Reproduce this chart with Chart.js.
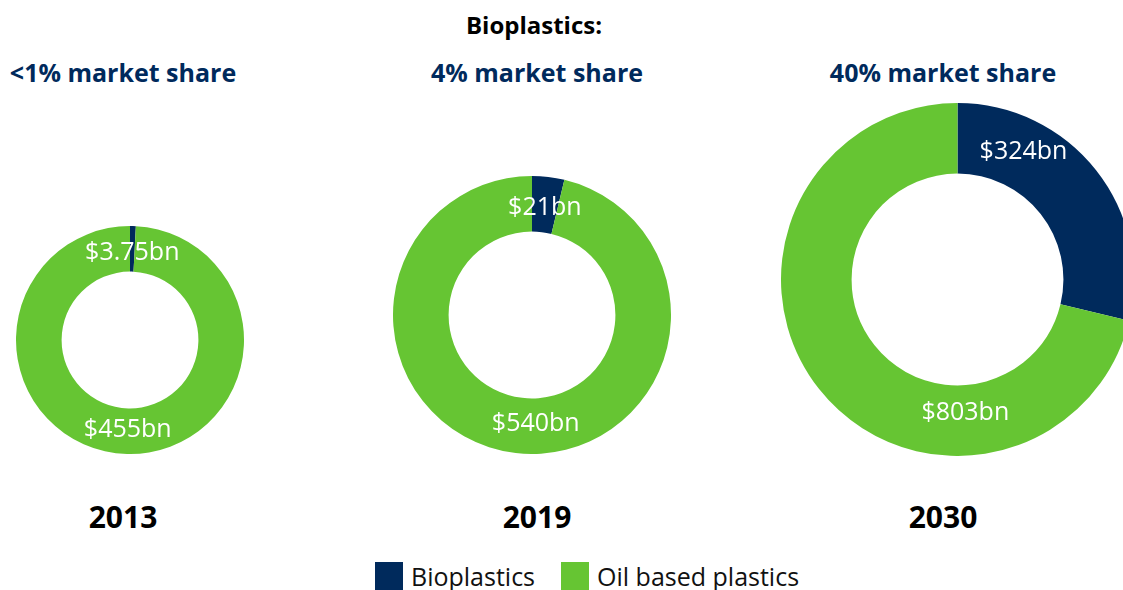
<!DOCTYPE html>
<html>
<head>
<meta charset="utf-8">
<script src="https://cdn.jsdelivr.net/npm/chart.js@4"></script>
<style>
  html, body {
    margin: 0;
    padding: 0;
    width: 1123px;
    height: 590px;
    overflow: hidden;
    background: #ffffff;
    font-family: "Open Sans", sans-serif;
  }
  .txt {
    position: absolute;
    line-height: 1;
    white-space: nowrap;
    transform: translate(-50%, -50%);
  }
  .title { font-size: 24px; font-weight: 700; color: #000; }
  .share { font-size: 25px; font-weight: 700; color: #002a5c; }
  .year { font-size: 30px; font-weight: 700; color: #000; }
  .ring { position: absolute; }
  #legend {
    position: absolute;
    left: 375px;
    top: 576px;
    transform: translateY(-50%);
    display: flex;
    align-items: center;
    font-size: 25px;
    line-height: 1;
    color: #111;
  }
  .legend-item { display: flex; align-items: center; margin-right: 26px; }
  .swatch { width: 28px; height: 28px; margin-right: 8px; }
</style>
</head>
<body>
<div class="txt title" style="left:534px; top:25px;">Bioplastics:</div>
<div id="texts"></div>
<canvas id="ring2013" class="ring" width="228" height="228" style="left:16px; top:226px;"></canvas>
<canvas id="ring2019" class="ring" width="278" height="278" style="left:393px; top:176px;"></canvas>
<canvas id="ring2030" class="ring" width="353" height="353" style="left:781px; top:103px;"></canvas>
<div id="legend"></div>

<script>
const categories = ["Bioplastics", "Oil based plastics"];
const years = ["2013", "2019", "2030"];
const shareLabels = ["<1% market share", "4% market share", "40% market share"];
const bioValues = [3.75, 21, 324];
const oilValues = [455, 540, 803];

const colors = ["#002a5c", "#66c533"];

// where the headings sit over each ring
const headingX = [123, 537, 943];

// value labels: [angle in degrees from the top (null = middle of the slice),
// position across the ring width, 0 = inner edge, 1 = outer edge]
const labelSpots = [
  [[null, 0.46], [null, 0.43]],
  [[null, 0.47], [178, 0.43]],
  [[27, 0.56], [176.6, 0.37]],
];

const texts = document.getElementById("texts");
years.forEach((year, i) => {
  const share = document.createElement("div");
  share.className = "txt share";
  share.style.left = headingX[i] + "px";
  share.style.top = "72px";
  share.textContent = shareLabels[i];
  texts.appendChild(share);

  const y = document.createElement("div");
  y.className = "txt year";
  y.style.left = headingX[i] + "px";
  y.style.top = "517px";
  y.textContent = year;
  texts.appendChild(y);
});

const legend = document.getElementById("legend");
categories.forEach((name, i) => {
  const item = document.createElement("div");
  item.className = "legend-item";
  item.innerHTML = `<span class="swatch" style="background:${colors[i]}"></span><span>${name}</span>`;
  legend.appendChild(item);
});

// draws "$Xbn" in white on each slice
const valueLabels = {
  id: "valueLabels",
  afterDatasetsDraw(chart, args, opts) {
    const ctx = chart.ctx;
    const meta = chart.getDatasetMeta(0);
    const values = chart.data.datasets[0].data;
    const size = 25;
    ctx.save();
    ctx.fillStyle = "#ffffff";
    ctx.font = size + "px 'Open Sans'";
    ctx.textAlign = "center";
    ctx.textBaseline = "alphabetic";
    meta.data.forEach((arc, i) => {
      const p = arc.getProps(["x", "y", "startAngle", "endAngle", "innerRadius", "outerRadius"], true);
      const spot = opts.spots[i];
      let a = (p.startAngle + p.endAngle) / 2;
      if (spot[0] !== null) {
        a = -Math.PI / 2 + (spot[0] * Math.PI) / 180;
      }
      const r = p.innerRadius + (p.outerRadius - p.innerRadius) * spot[1];
      const cx = p.x + Math.cos(a) * r;
      const cy = p.y + Math.sin(a) * r;
      // centre the digits on the point, cap height of Open Sans is ~0.714em
      ctx.fillText("$" + values[i] + "bn", cx, cy + size * 0.357);
    });
    ctx.restore();
  },
};

function drawRing(canvasId, i) {
  new Chart(document.getElementById(canvasId), {
    type: "doughnut",
    data: {
      labels: categories,
      datasets: [
        {
          data: [bioValues[i], oilValues[i]],
          backgroundColor: colors,
          borderWidth: 0,
        },
      ],
    },
    options: {
      responsive: false,
      animation: false,
      cutout: "60%",
      plugins: {
        legend: { display: false },
        tooltip: { enabled: false },
        valueLabels: { spots: labelSpots[i] },
      },
    },
    plugins: [valueLabels],
  });
}

drawRing("ring2013", 0);
drawRing("ring2019", 1);
drawRing("ring2030", 2);
</script>
</body>
</html>
